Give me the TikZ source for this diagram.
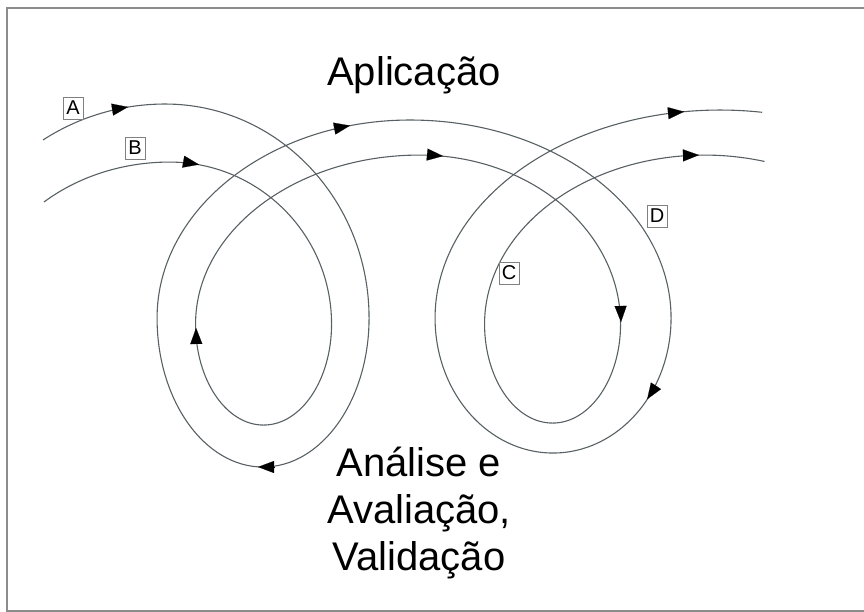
\documentclass[tikz,border=0pt]{standalone}
\usepackage{fontspec}
\setmainfont{Liberation Sans}
\usetikzlibrary{arrows.meta}

\definecolor{loopgray}{RGB}{88,96,100}
\definecolor{framegray}{RGB}{140,140,140}

\begin{document}
\begin{tikzpicture}[
    x=1pt,
    y=1pt,
    loop/.style={
        draw=loopgray,
        line width=1.1pt
    },
    arr/.style={
        -{Triangle[length=16pt,width=12pt]},
        black,
        line width=0.1pt
    },
    lbl/.style={
        font=\fontsize{40}{47}\selectfont
    },
    boxlabel/.style={
        draw=gray,
        fill=white,
        line width=0.6pt,
        font=\fontsize{20}{20}\selectfont,
        minimum width=20pt,
        minimum height=22pt,
        inner sep=0pt
    }
]

\useasboundingbox (0,0) rectangle (864,612);

% Frame
\draw[framegray, line width=1.2pt]
    (864,604) -- (7,604) -- (7,1) -- (864,1);

% Spiral A
\draw[loop] (43,472)
    arc[start angle=123.7, end angle=90, x radius=220pt, y radius=214pt]
    arc[start angle=90, end angle=0, x radius=204pt, y radius=214pt]
    arc[start angle=0, end angle=-180, x radius=106pt, y radius=149pt]
    arc[start angle=180, end angle=90, x radius=253pt, y radius=198pt]
    arc[start angle=90, end angle=0, x radius=261pt, y radius=198pt]
    arc[start angle=0, end angle=-180, x radius=118pt, y radius=135pt]
    arc[start angle=180, end angle=81.5, x radius=285pt, y radius=208pt];

% Spiral B
\draw[loop] (44,410)
    arc[start angle=131.1, end angle=90, x radius=191pt, y radius=162pt]
    arc[start angle=90, end angle=0, x radius=162pt, y radius=162pt]
    arc[start angle=0, end angle=-180, x radius=68pt, y radius=101pt]
    arc[start angle=180, end angle=90, x radius=224pt, y radius=169pt]
    arc[start angle=90, end angle=0, x radius=201pt, y radius=169pt]
    arc[start angle=0, end angle=-180, x radius=68pt, y radius=99pt]
    arc[start angle=180, end angle=74.2, x radius=220pt, y radius=169pt];

% Arrow heads on A
\draw[arr] (112.2,502.4) -- (128,505);
\draw[arr] (274,145) -- (258,145);
\draw[arr] (334.3,483.4) -- (350,486.4);
\draw[arr] (656,226.2) -- (647.2,212.8);
\draw[arr] (668,498.8) -- (684,500.3);

% Arrow heads on B
\draw[arr] (183.3,450.3) -- (199,447.4);
\draw[arr] (196.3,268) -- (196.1,284);
\draw[arr] (427.1,457.4) -- (443,455.9);
\draw[arr] (620.6,306) -- (621,290);
\draw[arr] (683,456.6) -- (699,456.9);

% Labels
\node[lbl, anchor=base] (apl) at (414,526) {Aplicação};
\node[lbl, align=center] (anl) at (419,99)
    {Análise e\\Avaliação,\\Validação};

\node[boxlabel] (la) at (73,504) {A};
\node[boxlabel] (lb) at (135,464) {B};
\node[boxlabel] (lc) at (509,339) {C};
\node[boxlabel] (ld) at (657,396) {D};

\end{tikzpicture}
\end{document}
